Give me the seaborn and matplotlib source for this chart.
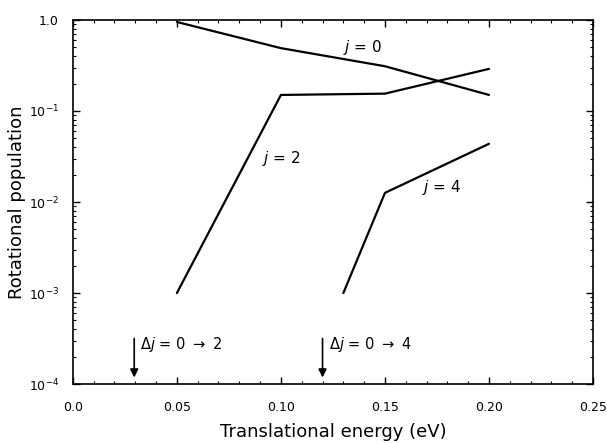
import matplotlib
matplotlib.use("Agg")
import matplotlib.pyplot as plt
import matplotlib.ticker as mticker
import seaborn as sns
import pandas as pd
import numpy as np

# Data
energy_j0 = [0.05, 0.10, 0.15, 0.20]
pop_j0 = [0.95, 0.49, 0.31, 0.15]
energy_j2 = [0.05, 0.10, 0.15, 0.20]
pop_j2 = [0.001, 0.15, 0.155, 0.29]
energy_j4 = [0.13, 0.15, 0.20]
pop_j4 = [0.001, 0.0126, 0.0436]
thresholds = [0.0295, 0.120]
threshold_labels = [r"$\Delta j$ = 0 $\rightarrow$ 2", r"$\Delta j$ = 0 $\rightarrow$ 4"]
xticks = [0.0, 0.05, 0.10, 0.15, 0.20, 0.25]
xtick_labels = ["0.0", "0.05", "0.10", "0.15", "0.20", "0.25"]
yticks = [1e-4, 1e-3, 1e-2, 1e-1, 1.0]
ytick_labels = [r"10$^{-4}$", r"10$^{-3}$", r"10$^{-2}$", r"10$^{-1}$", "1.0"]

sns.set_style("ticks")
plt.rcParams['font.family'] = ['DejaVu Sans']
plt.rcParams['mathtext.fontset'] = 'dejavusans'
plt.rcParams['text.color'] = 'black'
plt.rcParams['axes.labelcolor'] = 'black'
plt.rcParams['xtick.color'] = 'black'
plt.rcParams['ytick.color'] = 'black'

df = pd.concat([
    pd.DataFrame({"E": energy_j0, "P": pop_j0, "j": "0"}),
    pd.DataFrame({"E": energy_j2, "P": pop_j2, "j": "2"}),
    pd.DataFrame({"E": energy_j4, "P": pop_j4, "j": "4"}),
])

fig = plt.figure(figsize=(6.07, 4.43), dpi=100)
ax = fig.add_axes([0.120, 0.133, 0.857, 0.822])
sns.lineplot(data=df, x="E", y="P", units="j", estimator=None, color="black",
             linewidth=1.6, ax=ax, legend=False, sort=False)
ax.set_yscale("log")
ax.set_xlim(0, 0.25)
ax.set_ylim(1e-4, 1.0)
ax.set_xticks(xticks)
ax.set_xticklabels(xtick_labels, fontsize=9)
ax.set_yticks(yticks)
ax.set_yticklabels(ytick_labels, fontsize=9)
ax.xaxis.set_minor_locator(mticker.MultipleLocator(0.01))
ax.yaxis.set_minor_locator(mticker.LogLocator(base=10, subs=np.arange(2, 10)))
ax.yaxis.set_minor_formatter(mticker.NullFormatter())
ax.tick_params(which="both", direction="in", top=True, right=True, color="black",
               labelcolor="black")
ax.tick_params(which="major", length=5, width=1)
ax.tick_params(which="minor", length=2.5, width=0.8)
ax.tick_params(axis="x", which="major", pad=12)
ax.tick_params(axis="y", which="major", pad=10)
for s in ax.spines.values():
    s.set_linewidth(1.2)
    s.set_color("black")

ax.set_xlabel("Translational energy (eV)", fontsize=13, labelpad=7, color="black")
ax.set_ylabel("Rotational population", fontsize=13, labelpad=2, color="black")

ax.text(0.130, 0.50, r"$j$ = 0", fontsize=11, va="center", color="black")
ax.text(0.091, 0.030, r"$j$ = 2", fontsize=11, va="center", color="black")
ax.text(0.168, 0.0146, r"$j$ = 4", fontsize=11, va="center", color="black")

for xt, lab in zip(thresholds, threshold_labels):
    ax.annotate("", xy=(xt, 1.1e-4), xytext=(xt, 3.4e-4),
                arrowprops=dict(arrowstyle="-|>", color="black", lw=1.2,
                                mutation_scale=12))
    ax.text(xt + 0.003, 2.7e-4, lab, fontsize=10.5, va="center", color="black")

fig.savefig("out.png", dpi=100)
